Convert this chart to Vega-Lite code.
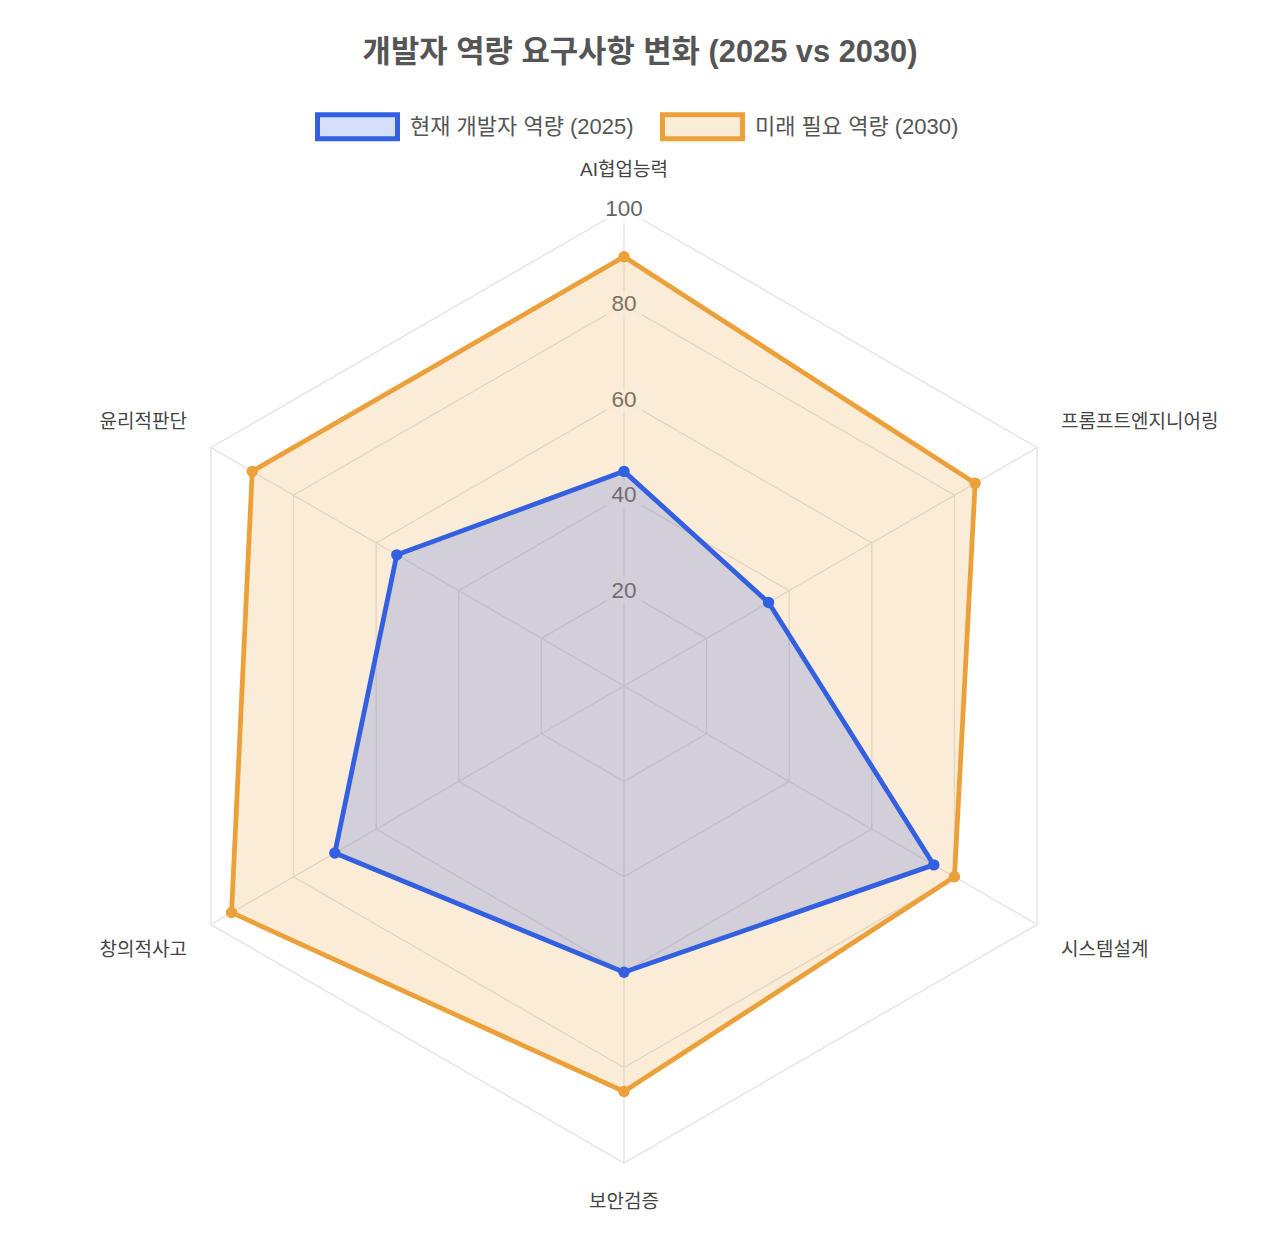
{
  "$schema": "https://vega.github.io/schema/vega-lite/v6.json",
  "width": 1280,
  "height": 1240,
  "autosize": {"type": "none"},
  "padding": 0,
  "background": "white",
  "title": {
    "text": "개발자 역량 요구사항 변화 (2025 vs 2030)",
    "font": "Liberation Sans, Noto Sans CJK KR",
    "fontSize": 30.8,
    "fontWeight": "bold",
    "color": "#555555",
    "anchor": "middle",
    "baseline": "middle",
    "offset": -84
  },
  "datasets": {
    "scores": [
      {"skill": "AI협업능력", "k": 0, "series": "현재 개발자 역량 (2025)", "score": 45},
      {"skill": "프롬프트엔지니어링", "k": 1, "series": "현재 개발자 역량 (2025)", "score": 35},
      {"skill": "시스템설계", "k": 2, "series": "현재 개발자 역량 (2025)", "score": 75},
      {"skill": "보안검증", "k": 3, "series": "현재 개발자 역량 (2025)", "score": 60},
      {"skill": "창의적사고", "k": 4, "series": "현재 개발자 역량 (2025)", "score": 70},
      {"skill": "윤리적판단", "k": 5, "series": "현재 개발자 역량 (2025)", "score": 55},
      {"skill": "AI협업능력", "k": 0, "series": "미래 필요 역량 (2030)", "score": 90},
      {"skill": "프롬프트엔지니어링", "k": 1, "series": "미래 필요 역량 (2030)", "score": 85},
      {"skill": "시스템설계", "k": 2, "series": "미래 필요 역량 (2030)", "score": 80},
      {"skill": "보안검증", "k": 3, "series": "미래 필요 역량 (2030)", "score": 85},
      {"skill": "창의적사고", "k": 4, "series": "미래 필요 역량 (2030)", "score": 95},
      {"skill": "윤리적판단", "k": 5, "series": "미래 필요 역량 (2030)", "score": 90}
    ],
    "grid": [
      {"level": 20, "k": [0, 1, 2, 3, 4, 5]},
      {"level": 40, "k": [0, 1, 2, 3, 4, 5]},
      {"level": 60, "k": [0, 1, 2, 3, 4, 5]},
      {"level": 80, "k": [0, 1, 2, 3, 4, 5]},
      {"level": 100, "k": [0, 1, 2, 3, 4, 5]}
    ],
    "spokes": [
      {"k": 0, "r": [0, 100]},
      {"k": 1, "r": [0, 100]},
      {"k": 2, "r": [0, 100]},
      {"k": 3, "r": [0, 100]},
      {"k": 4, "r": [0, 100]},
      {"k": 5, "r": [0, 100]}
    ],
    "ticks": [
      {"tick": 20}, {"tick": 40}, {"tick": 60}, {"tick": 80}, {"tick": 100}
    ],
    "skills": [
      {"skill": "AI협업능력", "k": 0},
      {"skill": "프롬프트엔지니어링", "k": 1},
      {"skill": "시스템설계", "k": 2},
      {"skill": "보안검증", "k": 3},
      {"skill": "창의적사고", "k": 4},
      {"skill": "윤리적판단", "k": 5}
    ]
  },
  "encoding": {
    "x": {"field": "x", "type": "quantitative", "axis": null,
      "scale": {"domain": [-130.82, 137.53], "nice": false, "zero": false}},
    "y": {"field": "y", "type": "quantitative", "axis": null,
      "scale": {"domain": [-116.14, 143.82], "nice": false, "zero": false}}
  },
  "layer": [
    {
      "data": {"name": "grid"},
      "transform": [
        {"flatten": ["k"]},
        {"calculate": "datum.k * PI / 3", "as": "a"},
        {"calculate": "datum.level * sin(datum.a)", "as": "x"},
        {"calculate": "datum.level * cos(datum.a)", "as": "y"}
      ],
      "mark": {"type": "line", "interpolate": "linear-closed", "color": "#e3e3e3", "strokeWidth": 1.3},
      "encoding": {
        "detail": {"field": "level"},
        "order": {"field": "k", "type": "quantitative"}
      }
    },
    {
      "data": {"name": "spokes"},
      "transform": [
        {"flatten": ["r"]},
        {"calculate": "datum.k * PI / 3", "as": "a"},
        {"calculate": "datum.r * sin(datum.a)", "as": "x"},
        {"calculate": "datum.r * cos(datum.a)", "as": "y"}
      ],
      "mark": {"type": "line", "color": "#e3e3e3", "strokeWidth": 1.3},
      "encoding": {
        "detail": {"field": "k"},
        "order": {"field": "r", "type": "quantitative"}
      }
    },
    {
      "data": {"name": "ticks"},
      "transform": [
        {"calculate": "0", "as": "x"},
        {"calculate": "datum.tick", "as": "y"}
      ],
      "mark": {"type": "point", "shape": "M-1,-0.8H1V0.8H-1Z", "size": 1300, "filled": true, "color": "white", "opacity": 0.75}
    },
    {
      "data": {"name": "ticks"},
      "transform": [
        {"calculate": "0", "as": "x"},
        {"calculate": "datum.tick", "as": "y"}
      ],
      "mark": {"type": "text", "font": "Liberation Sans", "fontSize": 22.5, "color": "#666666", "baseline": "middle", "align": "center"},
      "encoding": {"text": {"field": "tick"}}
    },
    {
      "data": {"name": "scores"},
      "transform": [
        {"filter": "datum.series == '미래 필요 역량 (2030)'"},
        {"calculate": "datum.k * PI / 3", "as": "a"},
        {"calculate": "datum.score * sin(datum.a)", "as": "x"},
        {"calculate": "datum.score * cos(datum.a)", "as": "y"}
      ],
      "mark": {"type": "line", "interpolate": "linear-closed", "strokeWidth": 4.8, "strokeJoin": "miter"},
      "encoding": {
        "fill": {"field": "series", "type": "nominal",
          "scale": {"domain": ["현재 개발자 역량 (2025)", "미래 필요 역량 (2030)"], "range": ["rgba(51,96,224,0.2)", "rgba(235,160,58,0.2)"]},
          "legend": {"title": null, "orient": "none", "legendX": 315, "legendY": 84, "direction": "horizontal",
            "symbolType": "M-1,-0.3H1V0.3H-1Z", "symbolSize": 6400, "symbolStrokeWidth": 5, "symbolOpacity": 1,
            "labelFont": "Liberation Sans, Noto Sans CJK KR", "labelFontSize": 22, "labelColor": "#555555",
            "labelOffset": 10, "columnPadding": 18, "labelLimit": 400}},
        "stroke": {"field": "series", "type": "nominal",
          "scale": {"domain": ["현재 개발자 역량 (2025)", "미래 필요 역량 (2030)"], "range": ["#3360e0", "#eba03a"]},
          "legend": {"title": null, "orient": "none", "legendX": 315, "legendY": 84, "direction": "horizontal",
            "symbolType": "M-1,-0.3H1V0.3H-1Z", "symbolSize": 6400, "symbolStrokeWidth": 5, "symbolOpacity": 1,
            "labelFont": "Liberation Sans, Noto Sans CJK KR", "labelFontSize": 22, "labelColor": "#555555",
            "labelOffset": 10, "columnPadding": 18, "labelLimit": 400}},
        "order": {"field": "k", "type": "quantitative"}
      }
    },
    {
      "data": {"name": "scores"},
      "transform": [
        {"filter": "datum.series == '미래 필요 역량 (2030)'"},
        {"calculate": "datum.k * PI / 3", "as": "a"},
        {"calculate": "datum.score * sin(datum.a)", "as": "x"},
        {"calculate": "datum.score * cos(datum.a)", "as": "y"}
      ],
      "mark": {"type": "point", "filled": true, "opacity": 1, "size": 130},
      "encoding": {
        "color": {"field": "series", "type": "nominal", "legend": null,
          "scale": {"domain": ["현재 개발자 역량 (2025)", "미래 필요 역량 (2030)"], "range": ["#3360e0", "#eba03a"]}}
      }
    },
    {
      "data": {"name": "scores"},
      "transform": [
        {"filter": "datum.series == '현재 개발자 역량 (2025)'"},
        {"calculate": "datum.k * PI / 3", "as": "a"},
        {"calculate": "datum.score * sin(datum.a)", "as": "x"},
        {"calculate": "datum.score * cos(datum.a)", "as": "y"}
      ],
      "mark": {"type": "line", "interpolate": "linear-closed", "strokeWidth": 4.8, "strokeJoin": "miter"},
      "encoding": {
        "fill": {"field": "series", "type": "nominal",
          "scale": {"domain": ["현재 개발자 역량 (2025)", "미래 필요 역량 (2030)"], "range": ["rgba(51,96,224,0.2)", "rgba(235,160,58,0.2)"]},
          "legend": {"title": null, "orient": "none", "legendX": 315, "legendY": 84, "direction": "horizontal",
            "symbolType": "M-1,-0.3H1V0.3H-1Z", "symbolSize": 6400, "symbolStrokeWidth": 5, "symbolOpacity": 1,
            "labelFont": "Liberation Sans, Noto Sans CJK KR", "labelFontSize": 22, "labelColor": "#555555",
            "labelOffset": 10, "columnPadding": 18, "labelLimit": 400}},
        "stroke": {"field": "series", "type": "nominal",
          "scale": {"domain": ["현재 개발자 역량 (2025)", "미래 필요 역량 (2030)"], "range": ["#3360e0", "#eba03a"]},
          "legend": {"title": null, "orient": "none", "legendX": 315, "legendY": 84, "direction": "horizontal",
            "symbolType": "M-1,-0.3H1V0.3H-1Z", "symbolSize": 6400, "symbolStrokeWidth": 5, "symbolOpacity": 1,
            "labelFont": "Liberation Sans, Noto Sans CJK KR", "labelFontSize": 22, "labelColor": "#555555",
            "labelOffset": 10, "columnPadding": 18, "labelLimit": 400}},
        "order": {"field": "k", "type": "quantitative"}
      }
    },
    {
      "data": {"name": "scores"},
      "transform": [
        {"filter": "datum.series == '현재 개발자 역량 (2025)'"},
        {"calculate": "datum.k * PI / 3", "as": "a"},
        {"calculate": "datum.score * sin(datum.a)", "as": "x"},
        {"calculate": "datum.score * cos(datum.a)", "as": "y"}
      ],
      "mark": {"type": "point", "filled": true, "opacity": 1, "size": 130},
      "encoding": {
        "color": {"field": "series", "type": "nominal", "legend": null,
          "scale": {"domain": ["현재 개발자 역량 (2025)", "미래 필요 역량 (2030)"], "range": ["#3360e0", "#eba03a"]}}
      }
    },
    {
      "data": {"name": "skills"},
      "transform": [
        {"filter": "datum.k == 0 || datum.k == 3"},
        {"calculate": "datum.k * PI / 3", "as": "a"},
        {"calculate": "0", "as": "x"},
        {"calculate": "108.2 * cos(datum.a)", "as": "y"}
      ],
      "mark": {"type": "text", "font": "Liberation Sans, Noto Sans CJK KR", "fontSize": 19, "color": "#444444", "align": "center", "baseline": "middle"},
      "encoding": {"text": {"field": "skill"}}
    },
    {
      "data": {"name": "skills"},
      "transform": [
        {"filter": "datum.k == 1 || datum.k == 2"},
        {"calculate": "datum.k * PI / 3", "as": "a"},
        {"calculate": "105.8 * sin(datum.a)", "as": "x"},
        {"calculate": "110.6 * cos(datum.a)", "as": "y"}
      ],
      "mark": {"type": "text", "font": "Liberation Sans, Noto Sans CJK KR", "fontSize": 19, "color": "#444444", "align": "left", "baseline": "middle"},
      "encoding": {"text": {"field": "skill"}}
    },
    {
      "data": {"name": "skills"},
      "transform": [
        {"filter": "datum.k == 4 || datum.k == 5"},
        {"calculate": "datum.k * PI / 3", "as": "a"},
        {"calculate": "105.8 * sin(datum.a)", "as": "x"},
        {"calculate": "110.6 * cos(datum.a)", "as": "y"}
      ],
      "mark": {"type": "text", "font": "Liberation Sans, Noto Sans CJK KR", "fontSize": 19, "color": "#444444", "align": "right", "baseline": "middle"},
      "encoding": {"text": {"field": "skill"}}
    }
  ],
  "config": {
    "view": {"stroke": null}
  }
}
